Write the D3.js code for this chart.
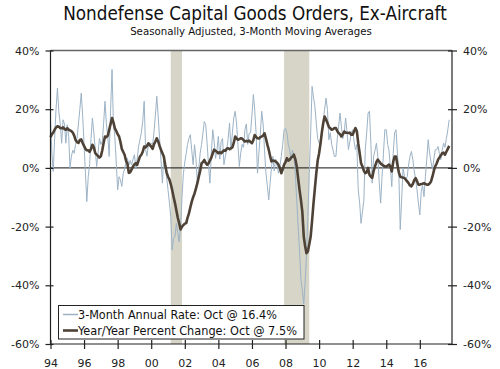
<!DOCTYPE html>
<html><head><meta charset="utf-8">
<script src="https://cdn.jsdelivr.net/npm/d3@7"></script>
<style>html,body{margin:0;padding:0;background:#fff;}svg{display:block;font-family:"DejaVu Sans",Verdana,sans-serif;}
.cond{font-family:"DejaVu Sans Condensed","Noto Sans","DejaVu Sans",sans-serif;}</style>
</head><body>
<svg id="chart" width="500" height="369"></svg>
<script>
const titleText = "Nondefense Capital Goods Orders, Ex-Aircraft";
const subtitleText = "Seasonally Adjusted, 3-Month Moving Averages";
const startYear = 1994, startMonth = 0;
const seriesNames = ["3-Month Annual Rate: Oct @ 16.4%", "Year/Year Percent Change: Oct @ 7.5%"];
// Year/Year percent change (monthly, Jan 1994 - Oct 2017)
const yoyValues = [
  10.5, 11.5, 12, 13, 13.8, 14.2, 14, 13.6, 13.5, 13.8, 13.2, 13,
  13.5, 13, 12.8, 12.5, 12, 11, 9.5, 8.8, 8.5, 9.5, 9.7, 8.5,
  7.5, 6.5, 6, 6, 5.5, 6.5, 7.9, 7, 5, 4.5, 4, 3.5,
  4, 6, 8.5, 10.7, 10.5, 11, 13, 15, 17, 15.5, 13.5, 12.6,
  11.5, 10.7, 9, 6.5, 5.5, 4.5, 2.5, 1.4, -1.7, -1.5, -0.5, 0.5,
  1.2, 1.6, 1, 2.5, 3.9, 4.5, 5.5, 7.3, 7, 7.5, 8.4, 7.8,
  7.3, 6.5, 8, 9, 10.1, 9, 7.5, 6.2, 5, 3.9, 1, -1.5,
  -3, -4, -5.5, -7.5, -9.8, -12, -14.4, -17, -18.9, -21, -20, -19.5,
  -19, -18.8, -17, -15.5, -13.5, -11.5, -10, -8.7, -7, -5.2, -3, -1,
  1.6, 2, 2.7, 1.7, 1.1, 1.5, 2.5, 3.5, 5, 6.2, 5.8, 5.5,
  5, 5.3, 5, 5.5, 6, 5.8, 6.5, 6.7, 6.4, 6.7, 7, 8.5,
  10.7, 10, 9.6, 9.8, 10.1, 10, 9.5, 9, 9.2, 9, 9.3, 8.8,
  8.4, 9.5, 11.2, 10.5, 10.1, 10, 10.5, 10.7, 11, 11.8, 10, 8,
  6.2, 4, 2.2, 2.5, 2.4, 2.2, 1.8, 1.1, 0, -1.8, -0.5, 1.1,
  2, 3.3, 2.5, 2.8, 3.5, 3.8, 4.5, 3, 0.5, -3.5, -7.5, -10.9,
  -15, -23.4, -26.5, -29.1, -28.5, -26, -23.4, -18, -12, -7, -1.8, 2.5,
  5, 8.4, 12, 15.3, 17.5, 16.5, 15.3, 14, 13.5, 13, 13.2, 13.6,
  13.6, 12.5, 11.9, 11.5, 10.7, 11.5, 12.4, 12, 12, 11.9, 12, 11.3,
  11.3, 12.5, 13.6, 12.5, 8.4, 5, 1.6, 0.5, -1, -1.8, -1.5, 0,
  -2.3, -3, -3.4, -1, 0.5, 2, 2.8, 2.2, 1.5, 1.1, 0.8, 0.5,
  0.5, 0.8, 1.1, 0.5, -1.2, 2, 3.9, 3.9, 1, -1.5, -3, -3.2,
  -3.3, -3.5, -4, -4.6, -5.2, -6, -6.3, -5.5, -4.2, -3.5, -4.5, -5.7,
  -5.7, -5.5, -5.4, -5.2, -5.5, -5.7, -5.7, -5.3, -4.6, -3, -1, 0.5,
  1.5, 2.8, 3.5, 4.2, 5, 5.2, 4.5, 5.5, 6.5, 7.5
];
// 3-month annualized rate (monthly, Jan 1994 - Oct 2017)
const annualRateValues = [
  16.4, 5, -1.2, 10, 20, 27.2, 19.3, 15, 8.4, 16.4, 15, 8.4,
  14.7, 10.7, 0, 4, 6, 5, 8, 10, 15, 19.9, 25.5, 18,
  8, -2, -11.5, -3, 1.1, 10, 17, 12, 6, 0.5, 5, 10,
  8, 9, 15, 22.7, 15, 10.6, 3.9, 20, 33.5, 14.9, 10.6, 2,
  -7.5, -3, -4, -6.3, -2, -0.4, 2, 3.3, 1, 2.5, 1.1, 3,
  4.5, -0.2, 3, 7.3, 9.6, 12, 16, 22.7, 6.2, 4, 8, 8.4,
  8.4, 8, 12, 18, 24.4, 17.6, 10, 2.8, -5.2, 3.9, 0, -3,
  -7.5, -12, -16.6, -28, -24, -23.5, -18.9, -22, -25.2, -20, -10, -2,
  2, 5, 8, 10.1, 11.3, 6, 1.1, 7.9, 3, -5.2, 0, 5,
  8, 12, 15.8, 14.7, 8.4, 1, -5.2, 5, 13, 9, 3.3, 6,
  10.7, 3, 9, 10, 1.1, 4, 6, 10, 15.3, 6, 12, 17,
  19.3, 15, 8, 0.5, 5, 8, 7, 13, 15, 8, 11.8, 12,
  18, 25, 20, 11.8, -1.8, 5, 11.3, 19.3, 15, 6, -1.8, -6,
  -10.9, -5, 0, 3.9, -1, 3, 1, -1.8, 0.5, 3.9, 8, 13,
  13.5, 11.9, 8, 6.2, 2.8, 6, 4, -2, -11, -20, -28, -38,
  -41.7, -46.3, -39.4, -30, -16.6, -2, 11.9, 27.8, 24, 21, 15, 10,
  8.4, 9, 12, 16.4, 20, 23.8, 19.9, 9.6, 12, 8, 6, 3.9,
  3.9, 10, 14, 18.7, 14, 10, 12, 17, 12, 6.2, 9, 12,
  13, 9, 6.2, 8, -7.5, -12, -18.9, -15, -11, 6.2, 12, 18.7,
  19.3, 8, -5.2, 3.9, 6, 8.4, 4, -5, -12, -3, 5, 13,
  13, 8, 6, 0, -6.4, 5, 11.9, 13, 5, -1.8, -21, -11,
  0, -3, -4, -3, 1, 3.9, 5.6, 3, -1, -4, -7.5, -12,
  -16, -8, -6, -9.8, -3, 3, 9.6, 5, 2, -0.5, 3, 6.2,
  6.2, 7.3, 5, 2.8, 6, 8.4, 7, 10, 13, 16.4
];
const recessionStarts = ["2001-03-01", "2007-12-01"];
const recessionEnds = ["2001-11-01", "2009-06-01"];
const yTicks = [40, 20, 0, -20, -40, -60];
const xTickYears = [1994, 1996, 1998, 2000, 2002, 2004, 2006, 2008, 2010, 2012, 2014, 2016];

const svg = d3.select("#chart");
const L = 50.5, R = 452, T = 50.5, B = 344;
const dates = yoyValues.map((_, i) => new Date(startYear, startMonth + i, 1));
const x = d3.scaleTime().domain([new Date(1994, 0, 1), new Date(2017, 11, 1)]).range([L, R]);
const y = d3.scaleLinear().domain([-60, 40]).range([B, T]);
const parse = d3.timeParse("%Y-%m-%d");

// recession bands
svg.append("g").selectAll("rect").data(recessionStarts.map((s, i) => [parse(s), parse(recessionEnds[i])]))
  .join("rect")
  .attr("x", d => x(d[0])).attr("width", d => x(d[1]) - x(d[0]))
  .attr("y", T).attr("height", B - T)
  .attr("fill", "#d6d5c8");

// top border
svg.append("line").attr("x1", L).attr("x2", R).attr("y1", T).attr("y2", T)
  .attr("stroke", "#666").attr("stroke-width", 1.5);
// zero line
svg.append("line").attr("x1", L).attr("x2", R).attr("y1", y(0)).attr("y2", y(0))
  .attr("stroke", "#111").attr("stroke-width", 1);

const line = d3.line().x((d, i) => x(dates[i])).y(d => y(d));
svg.append("path").datum(annualRateValues).attr("d", line)
  .attr("fill", "none").attr("stroke", "#9cb3c6").attr("stroke-width", 1);
svg.append("path").datum(yoyValues).attr("d", line)
  .attr("fill", "none").attr("stroke", "#4e4237").attr("stroke-width", 2.6)
  .attr("stroke-linejoin", "round");

// axes
const fmtPct = d => d + "%";
const left = svg.append("g").attr("transform", `translate(${L},0)`)
  .call(d3.axisLeft(y).tickValues(yTicks).tickFormat(fmtPct).tickSize(5).tickPadding(6));
const right = svg.append("g").attr("transform", `translate(${R},0)`)
  .call(d3.axisRight(y).tickValues(yTicks).tickFormat(fmtPct).tickSize(5).tickPadding(6));
const bottom = svg.append("g").attr("transform", `translate(0,${B})`)
  .call(d3.axisBottom(x).tickValues(xTickYears.map(yr => new Date(yr, 0, 1)))
    .tickFormat(d3.timeFormat("%y")).tickSize(5).tickPadding(10));
[left, right, bottom].forEach(g => {
  g.select(".domain").attr("stroke", "#222").attr("stroke-width", 1.2);
  g.selectAll(".tick line").attr("stroke", "#222").attr("stroke-width", 1.2);
  g.selectAll(".tick text").attr("fill", "#222").style("font-size", "11px")
    .style("font-family", '"DejaVu Sans",Verdana,sans-serif');
});
// ticks crossing axis
left.selectAll(".tick line").attr("x1", 3).attr("x2", -5);
right.selectAll(".tick line").attr("x1", -4).attr("x2", 5);
bottom.selectAll(".tick line").attr("y1", -4).attr("y2", 5);
left.select(".domain").attr("d", `M0,${T}V${B}`);
right.select(".domain").attr("d", `M0,${T}V${B}`);
bottom.select(".domain").attr("d", `M${L},0H${R}`);

// title
function fit(sel, w) {
  const cur = sel.node().getComputedTextLength();
  const fs = parseFloat(sel.style("font-size"));
  sel.style("font-size", (fs * w / cur).toFixed(2) + "px");
}
const t = svg.append("text").attr("class", "cond").attr("x", 255).attr("y", 20).attr("text-anchor", "middle")
  .style("font-size", "16px").attr("fill", "#111").text(titleText);
fit(t, 384);
const st = svg.append("text").attr("class", "cond").attr("x", 251).attr("y", 35).attr("text-anchor", "middle")
  .style("font-size", "10px").attr("fill", "#111").text(subtitleText);
fit(st, 242);

// legend
const lg = svg.append("g");
lg.append("rect").attr("x", 58.5).attr("y", 305.5).attr("width", 245.5).attr("height", 33.5)
  .attr("fill", "#fff").attr("stroke", "#222").attr("stroke-width", 1);
const legendStyles = [{c: "#9cb3c6", w: 1.5, yy: 314.5}, {c: "#4e4237", w: 2.6, yy: 330.5}];
seriesNames.forEach((nm, i) => {
  const s = legendStyles[i];
  lg.append("line").attr("x1", 63).attr("x2", 78).attr("y1", s.yy).attr("y2", s.yy)
    .attr("stroke", s.c).attr("stroke-width", s.w);
  const tx = lg.append("text").attr("class", "cond").attr("x", 78).attr("y", s.yy + 4).style("font-size", "11px")
    .attr("fill", "#111").text(nm);
  fit(tx, i === 0 ? 199 : 219);
});
</script>
</body></html>
